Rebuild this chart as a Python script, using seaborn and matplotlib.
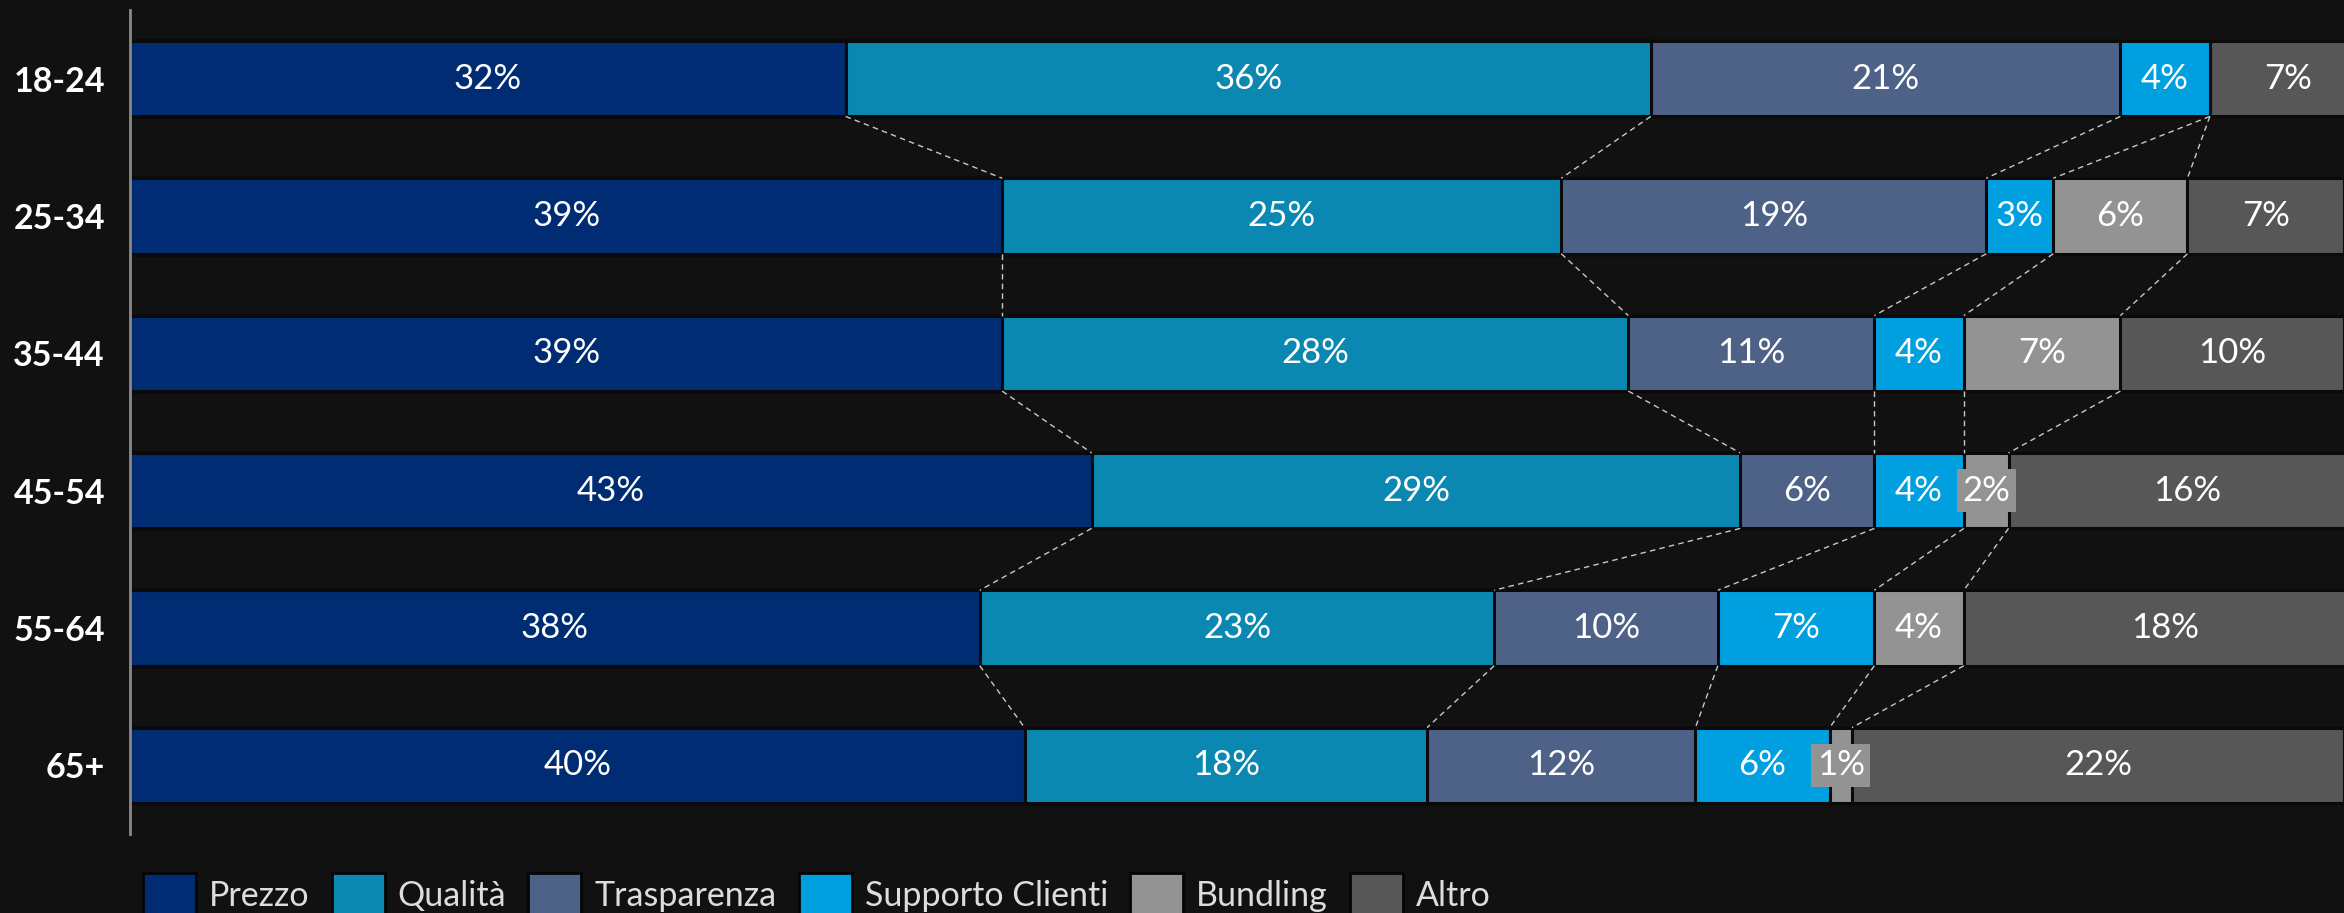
import numpy as np
import pandas as pd
import matplotlib
matplotlib.use("Agg")
import matplotlib.pyplot as plt
from matplotlib.patches import Patch
import seaborn as sns

# Share of purchase drivers by age group (%)
age_groups = ["18-24", "25-34", "35-44", "45-54", "55-64", "65+"]
prezzo = [32, 39, 39, 43, 38, 40]
qualita = [36, 25, 28, 29, 23, 18]
trasparenza = [21, 19, 11, 6, 10, 12]
supporto = [4, 3, 4, 4, 7, 6]
bundling = [0, 6, 7, 2, 4, 1]
altro = [7, 7, 10, 16, 18, 22]

series_names = ["Prezzo", "Qualità", "Trasparenza", "Supporto Clienti", "Bundling", "Altro"]
series_values = [prezzo, qualita, trasparenza, supporto, bundling, altro]
colors = ["#002c74", "#0b88b1", "#4e6187", "#009fe0", "#939393", "#575757"]

BG = "#111111"
sns.set_theme(style="dark", rc={"figure.facecolor": BG, "axes.facecolor": BG,
                                "savefig.facecolor": BG})
plt.rcParams["font.family"] = ["Lato", "DejaVu Sans"]

W, H = 2344, 913
fig = plt.figure(figsize=(W / 100, H / 100), dpi=100)
ax = fig.add_axes([130 / W, 79 / H, 1 - 130 / W, 824 / H])

vals = np.array(series_values, dtype=float)
cum = np.cumsum(vals, axis=0)
bar_h = 0.55

# stacked bars: draw cumulative totals from the last series back to the first
for i in range(len(series_names) - 1, -1, -1):
    df = pd.DataFrame({"gruppo": age_groups, "valore": cum[i]})
    sns.barplot(data=df, x="valore", y="gruppo", orient="h", color=colors[i],
                saturation=1, width=bar_h, edgecolor="#0a0a0a", linewidth=2.2,
                errorbar=None, ax=ax)

ax.set_xlim(0, 99)
ax.set_ylim(len(age_groups) - 0.5, -0.5)

# dashed connectors between matching segment boundaries of consecutive bars
for r in range(len(age_groups) - 1):
    for k in range(len(series_names) - 1):
        ax.plot([cum[k, r], cum[k, r + 1]], [r + bar_h / 2, r + 1 - bar_h / 2],
                ls=(0, (4, 3)), color="#c8c8c8", lw=1.0, zorder=1)

# value labels
for i, name in enumerate(series_names):
    for r in range(len(age_groups)):
        v = vals[i, r]
        if v <= 0:
            continue
        kw = {}
        if v <= 2:
            kw["bbox"] = dict(boxstyle="square,pad=0.16", fc=colors[i], ec="none")
        ax.text(cum[i, r] - v / 2, r, f"{int(v)}%", ha="center", va="center",
                color="white", fontsize=25, zorder=5, **kw)

ax.set_xlabel("")
ax.set_ylabel("")
ax.set_xticks([])
ax.tick_params(axis="y", length=0, pad=18, labelsize=24.5, labelcolor="white")
for lab in ax.get_yticklabels():
    lab.set_fontweight("bold")
for s in ["top", "right", "bottom"]:
    ax.spines[s].set_visible(False)
ax.spines["left"].set_visible(True)
ax.spines["left"].set_color("#8a8a8a")
ax.spines["left"].set_linewidth(2)
ax.spines["left"].set_zorder(6)
ax.grid(False)

handles = [Patch(facecolor=c, edgecolor="#050505", linewidth=2, label=n)
           for n, c in zip(series_names, colors)]
fig.legend(handles=handles, loc="upper left", bbox_to_anchor=(143 / W, 1 - 873 / H),
           ncol=6, frameon=False, fontsize=24.5, labelcolor="#dddddd",
           handlelength=1.56, handleheight=1.56, handletextpad=0.38,
           columnspacing=0.65, borderpad=0, borderaxespad=0)

fig.savefig("out.png", dpi=100, facecolor=BG)
